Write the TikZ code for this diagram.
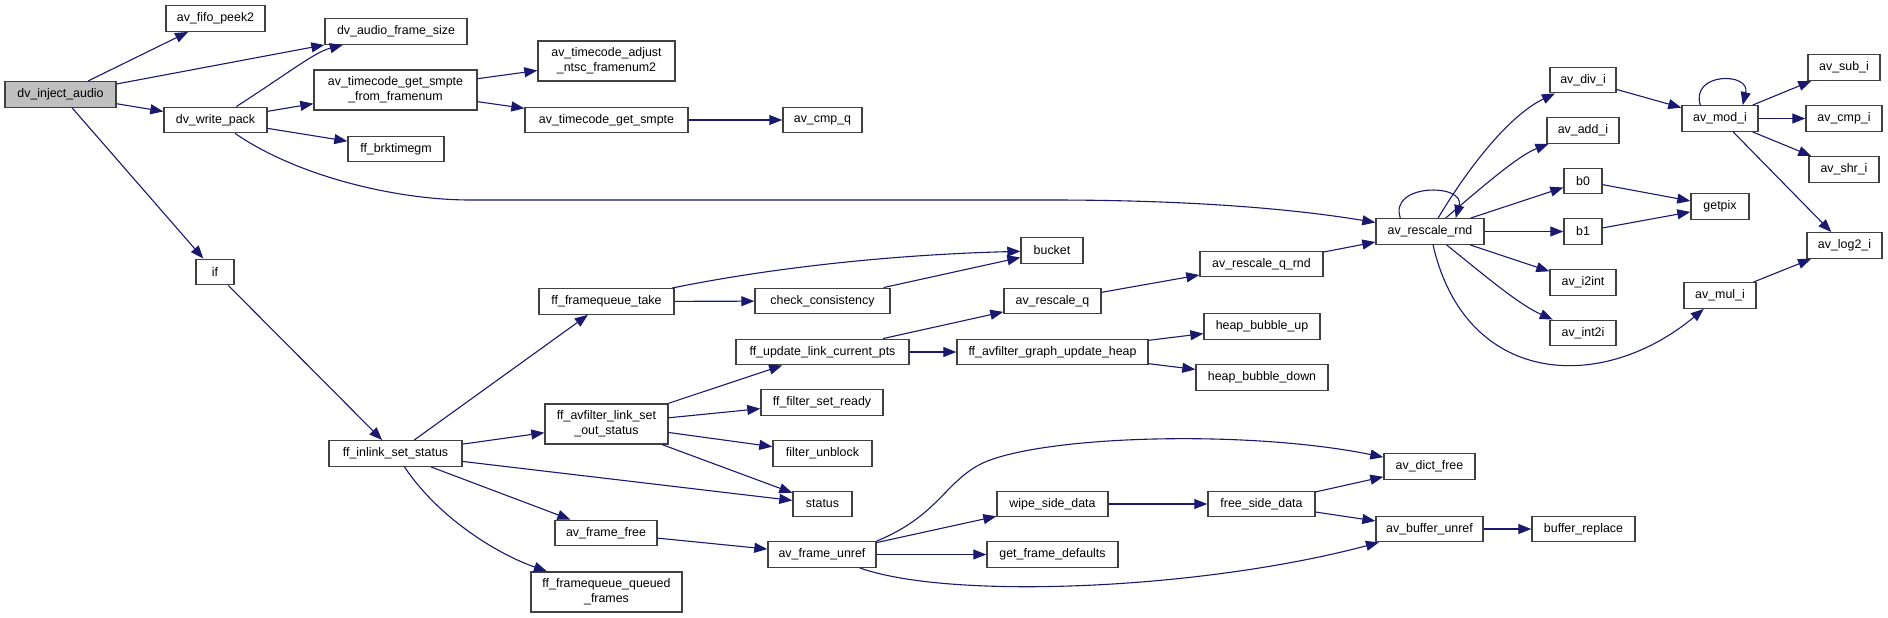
\documentclass[tikz,border=0pt]{standalone}
\usepackage{fontspec}
\setmainfont{Liberation Sans}
\usetikzlibrary{arrows.meta}
\definecolor{edgeblue}{HTML}{191970}
\definecolor{boxline}{HTML}{404040}
\definecolor{rootgray}{HTML}{BFBFBF}
\newcommand\fnfont{\fontsize{12.4pt}{15pt}\selectfont}

\begin{document}
\begin{tikzpicture}[x=1pt,y=-1pt,
    fn/.style={draw=boxline,fill=white,line width=1.4pt,inner sep=0pt,minimum height=25.5pt,align=center,font=\fnfont},
    fntwo/.style={fn,minimum height=40pt},
    call/.style={draw=edgeblue,line width=1.1pt,-{Triangle[length=13pt,width=10pt]}}]
    \useasboundingbox[fill=white] (0,0) rectangle (1888,618);

    \node[fn,fill=rootgray,minimum width=111pt] (dia) at (60.5,94.5) {dv\_inject\_audio};
    \node[fn,minimum width=99pt] (peek) at (215.5,18.5) {av\_fifo\_peek2};
    \node[fn,minimum width=103pt] (dwp) at (215.5,120) {dv\_write\_pack};
    \node[fn,minimum width=38pt] (ifn) at (215,272) {if};
    \node[fn,minimum width=142pt] (dafs) at (396,31.5) {dv\_audio\_frame\_size};
    \node[fntwo,minimum width=163pt] (tgsff) at (395.5,90) {av\_timecode\_get\_smpte\\\_from\_framenum};
    \node[fn,minimum width=96pt] (brk) at (396,149) {ff\_brktimegm};
    \node[fn,minimum width=133pt] (fiss) at (395.5,453.5) {ff\_inlink\_set\_status};
    \node[fntwo,minimum width=137pt] (adj) at (606.5,61) {av\_timecode\_adjust\\\_ntsc\_framenum2};
    \node[fn,minimum width=163pt] (tgs) at (606.5,120) {av\_timecode\_get\_smpte};
    \node[fn,minimum width=135pt] (fqt) at (606.5,301.5) {ff\_framequeue\_take};
    \node[fntwo,minimum width=123pt] (flso) at (606.5,424) {ff\_avfilter\_link\_set\\\_out\_status};
    \node[fn,minimum width=102pt] (aff) at (606,533) {av\_frame\_free};
    \node[fntwo,minimum width=151pt] (fqqf) at (606.5,592) {ff\_framequeue\_queued\\\_frames};
    \node[fn,minimum width=79pt] (acmpq) at (822.5,120) {av\_cmp\_q};
    \node[fn,minimum width=135pt] (cc) at (822.5,301) {check\_consistency};
    \node[fn,minimum width=173pt] (fulcp) at (822.5,352) {ff\_update\_link\_current\_pts};
    \node[fn,minimum width=122pt] (ffsr) at (822,402.5) {ff\_filter\_set\_ready};
    \node[fn,minimum width=99pt] (fu) at (822.5,453.5) {filter\_unblock};
    \node[fn,minimum width=59pt] (status) at (822.5,504) {status};
    \node[fn,minimum width=108pt] (afu) at (822,554.5) {av\_frame\_unref};
    \node[fn,minimum width=62pt] (bucket) at (1052,250.5) {bucket};
    \node[fn,minimum width=97pt] (arq) at (1052.5,301) {av\_rescale\_q};
    \node[fn,minimum width=191pt] (fagu) at (1052.5,352) {ff\_avfilter\_graph\_update\_heap};
    \node[fn,minimum width=111pt] (wsd) at (1052.5,504) {wipe\_side\_data};
    \node[fn,minimum width=131pt] (gfd) at (1052.5,554.5) {get\_frame\_defaults};
    \node[fn,minimum width=123pt] (arqr) at (1261.5,264) {av\_rescale\_q\_rnd};
    \node[fn,minimum width=116pt] (hbu) at (1262,326.5) {heap\_bubble\_up};
    \node[fn,minimum width=132pt] (hbd) at (1262,377.5) {heap\_bubble\_down};
    \node[fn,minimum width=107pt] (fsd) at (1261.5,504) {free\_side\_data};
    \node[fn,minimum width=108pt] (arnd) at (1430,231.5) {av\_rescale\_rnd};
    \node[fn,minimum width=91pt] (adf) at (1429.5,466.5) {av\_dict\_free};
    \node[fn,minimum width=107pt] (abu) at (1429.5,529) {av\_buffer\_unref};
    \node[fn,minimum width=66pt] (adivi) at (1583,80) {av\_div\_i};
    \node[fn,minimum width=72pt] (aaddi) at (1583,130.5) {av\_add\_i};
    \node[fn,minimum width=38pt] (b0) at (1583,181) {b0};
    \node[fn,minimum width=38pt] (b1) at (1583,231.5) {b1};
    \node[fn,minimum width=66pt] (ai2int) at (1583,282.5) {av\_i2int};
    \node[fn,minimum width=66pt] (aint2i) at (1583,333) {av\_int2i};
    \node[fn,minimum width=103pt] (bre) at (1583.5,529) {buffer\_replace};
    \node[fn,minimum width=76pt] (amod) at (1720,118.5) {av\_mod\_i};
    \node[fn,minimum width=58pt] (gp) at (1720,206.5) {getpix};
    \node[fn,minimum width=72pt] (amul) at (1720,295.5) {av\_mul\_i};
    \node[fn,minimum width=72pt] (asub) at (1844,67.5) {av\_sub\_i};
    \node[fn,minimum width=76pt] (acmpi) at (1844,118.5) {av\_cmp\_i};
    \node[fn,minimum width=70pt] (ashr) at (1844,169.5) {av\_shr\_i};
    \node[fn,minimum width=75pt] (alog) at (1844.5,245.5) {av\_log2\_i};

    \draw[call] (dia) -- (peek);
    \draw[call] (dia) -- (dafs);
    \draw[call] (dia) -- (dwp);
    \draw[call] (dia) -- (ifn);
    \draw[call] (dwp) .. controls (290,72) and (315,52) .. (dafs);
    \draw[call] (dwp) -- (tgsff);
    \draw[call] (dwp) -- (brk);
    \draw[call] (dwp) .. controls (300,178) and (400,200) .. (470,200) -- (1050,200) .. controls (1200,200) and (1300,210) .. (arnd);
    \draw[call] (tgsff) -- (adj);
    \draw[call] (tgsff) -- (tgs);
    \draw[call] (tgs) -- (acmpq);
    \draw[call] (ifn) -- (fiss);
    \draw[call] (fiss) -- (fqt);
    \draw[call] (fiss) -- (flso);
    \draw[call] (fiss) -- (status);
    \draw[call] (fiss) -- (aff);
    \draw[call] (fiss) .. controls (440,520) and (500,555) .. (fqqf);
    \draw[call] (fqt) .. controls (760,270) and (880,255) .. (bucket);
    \draw[call] (fqt) -- (cc);
    \draw[call] (cc) -- (bucket);
    \draw[call] (flso) -- (fulcp);
    \draw[call] (flso) -- (ffsr);
    \draw[call] (flso) -- (fu);
    \draw[call] (flso) -- (status);
    \draw[call] (fulcp) -- (arq);
    \draw[call] (fulcp) -- (fagu);
    \draw[call] (fagu) -- (hbu);
    \draw[call] (fagu) -- (hbd);
    \draw[call] (arq) -- (arqr);
    \draw[call] (arqr) -- (arnd);
    \draw[call] (aff) -- (afu);
    \draw[call] (afu.north east) .. controls (940,515) and (945,480) .. (985,462) .. controls (1050,435) and (1250,430) .. (adf);
    \draw[call] (afu) -- (wsd);
    \draw[call] (afu) -- (gfd);
    \draw[call] (afu) .. controls (950,600) and (1200,590) .. (abu);
    \draw[call] (wsd) -- (fsd);
    \draw[call] (fsd) -- (adf);
    \draw[call] (fsd) -- (abu);
    \draw[call] (abu) -- (bre);
    \draw[call] ([xshift=25pt]arnd.north west) .. controls +(-12,-35) and +(10,-35) .. ([xshift=-29pt]arnd.north east);
    \draw[call] (arnd) .. controls (1470,165) and (1510,115) .. (adivi);
    \draw[call] (arnd) .. controls (1490,180) and (1520,155) .. (aaddi);
    \draw[call] (arnd) -- (b0);
    \draw[call] (arnd) -- (b1);
    \draw[call] (arnd) -- (ai2int);
    \draw[call] (arnd) .. controls (1490,280) and (1520,305) .. (aint2i);
    \draw[call] (arnd) .. controls (1465,385) and (1600,395) .. (amul);
    \draw[call] (adivi) -- (amod);
    \draw[call] ([xshift=19pt]amod.north west) .. controls +(-10,-33) and +(8,-33) .. ([xshift=-16pt]amod.north east);
    \draw[call] (amod) -- (asub);
    \draw[call] (amod) -- (acmpi);
    \draw[call] (amod) -- (ashr);
    \draw[call] (amod) -- (alog);
    \draw[call] (b0) -- (gp);
    \draw[call] (b1) -- (gp);
    \draw[call] (amul) -- (alog);
\end{tikzpicture}
\end{document}
